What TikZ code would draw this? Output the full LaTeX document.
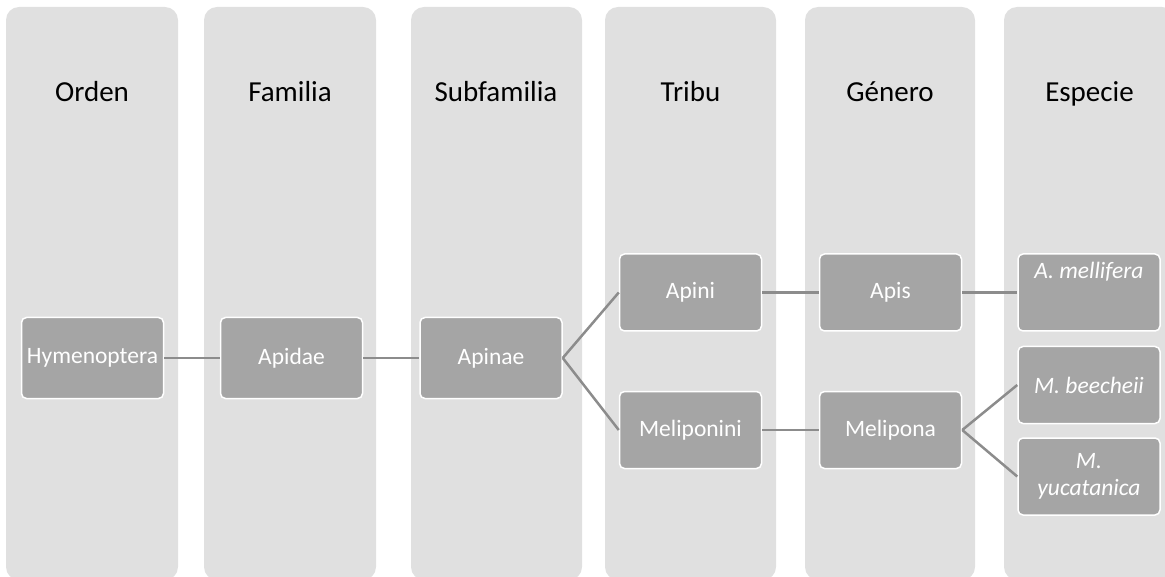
\documentclass[tikz,border=0pt]{standalone}
\usepackage{fontspec}
\setmainfont{Carlito}
\definecolor{colfill}{HTML}{E0E0E0}
\definecolor{boxfill}{HTML}{A5A5A5}
\definecolor{linkgray}{HTML}{8C8C8C}
\begin{document}
\begin{tikzpicture}[x=1pt,y=-1pt,
  colbox/.style={fill=colfill, rounded corners=13pt},
  header/.style={font=\fontsize{29}{34}\selectfont, text=black, inner sep=0pt, anchor=base},
  taxbox/.style={draw=white, line width=1.5pt, fill=boxfill, rounded corners=5pt,
    minimum width=142pt, minimum height=77pt, inner sep=2pt, text=white,
    font=\fontsize{23.5}{27}\selectfont, align=center},
  sp/.style={font=\fontsize{23.5}{27}\selectfont\itshape},
  link/.style={draw=linkgray, line width=2.5pt}
]
\clip (0,0) rectangle (1165,577);
% columns
\fill[colbox] (6,7) rectangle (178,580);
\fill[colbox] (204,7) rectangle (376,580);
\fill[colbox] (411,7) rectangle (582,580);
\fill[colbox] (605,7) rectangle (776,580);
\fill[colbox] (805,7) rectangle (975,580);
\fill[colbox] (1004,7) rectangle (1175,580);
% headers
\node[header] (h1) at (92,101.5) {Orden};
\node[header] (h2) at (290,101.5) {Familia};
\node[header] (h3) at (496,101.5) {Subfamilia};
\node[header] (h4) at (690.5,101.5) {Tribu};
\node[header] (h5) at (890,101.5) {Género};
\node[header] (h6) at (1089.5,101.5) {Especie};
% boxes
\node[taxbox, minimum height=81pt] (hym) at (92.5,358) {Hymenoptera};
\node[taxbox, minimum height=81pt] (apidae) at (291.5,358) {Apidae};
\node[taxbox, minimum height=81pt] (apinae) at (491,358) {Apinae};
\node[taxbox] (apini) at (690.5,292.5) {Apini};
\node[taxbox] (melini) at (690.5,430) {Meliponini};
\node[taxbox] (apis) at (890.5,292.5) {Apis};
\node[taxbox] (melipona) at (890.5,430) {Melipona};
\node[taxbox] (mell) at (1089,292.5) {};
\node[sp, text=white, anchor=base, inner sep=0pt] (melltxt) at (1089,279) {A. mellifera};
\node[taxbox, sp] (beech) at (1089,385) {M. beecheii};
\node[taxbox, sp] (yuc) at (1089,476.5) {M.\\yucatanica};
% links
\draw[link] (hym.east) -- (apidae.west);
\draw[link] (apidae.east) -- (apinae.west);
\draw[link] (apinae.east) -- (apini.west);
\draw[link] (apinae.east) -- (melini.west);
\draw[link] (apini.east) -- (apis.west);
\draw[link] (melini.east) -- (melipona.west);
\draw[link] (apis.east) -- (mell.west);
\draw[link] (melipona.east) -- (beech.west);
\draw[link] (melipona.east) -- (yuc.west);
\end{tikzpicture}
\end{document}
